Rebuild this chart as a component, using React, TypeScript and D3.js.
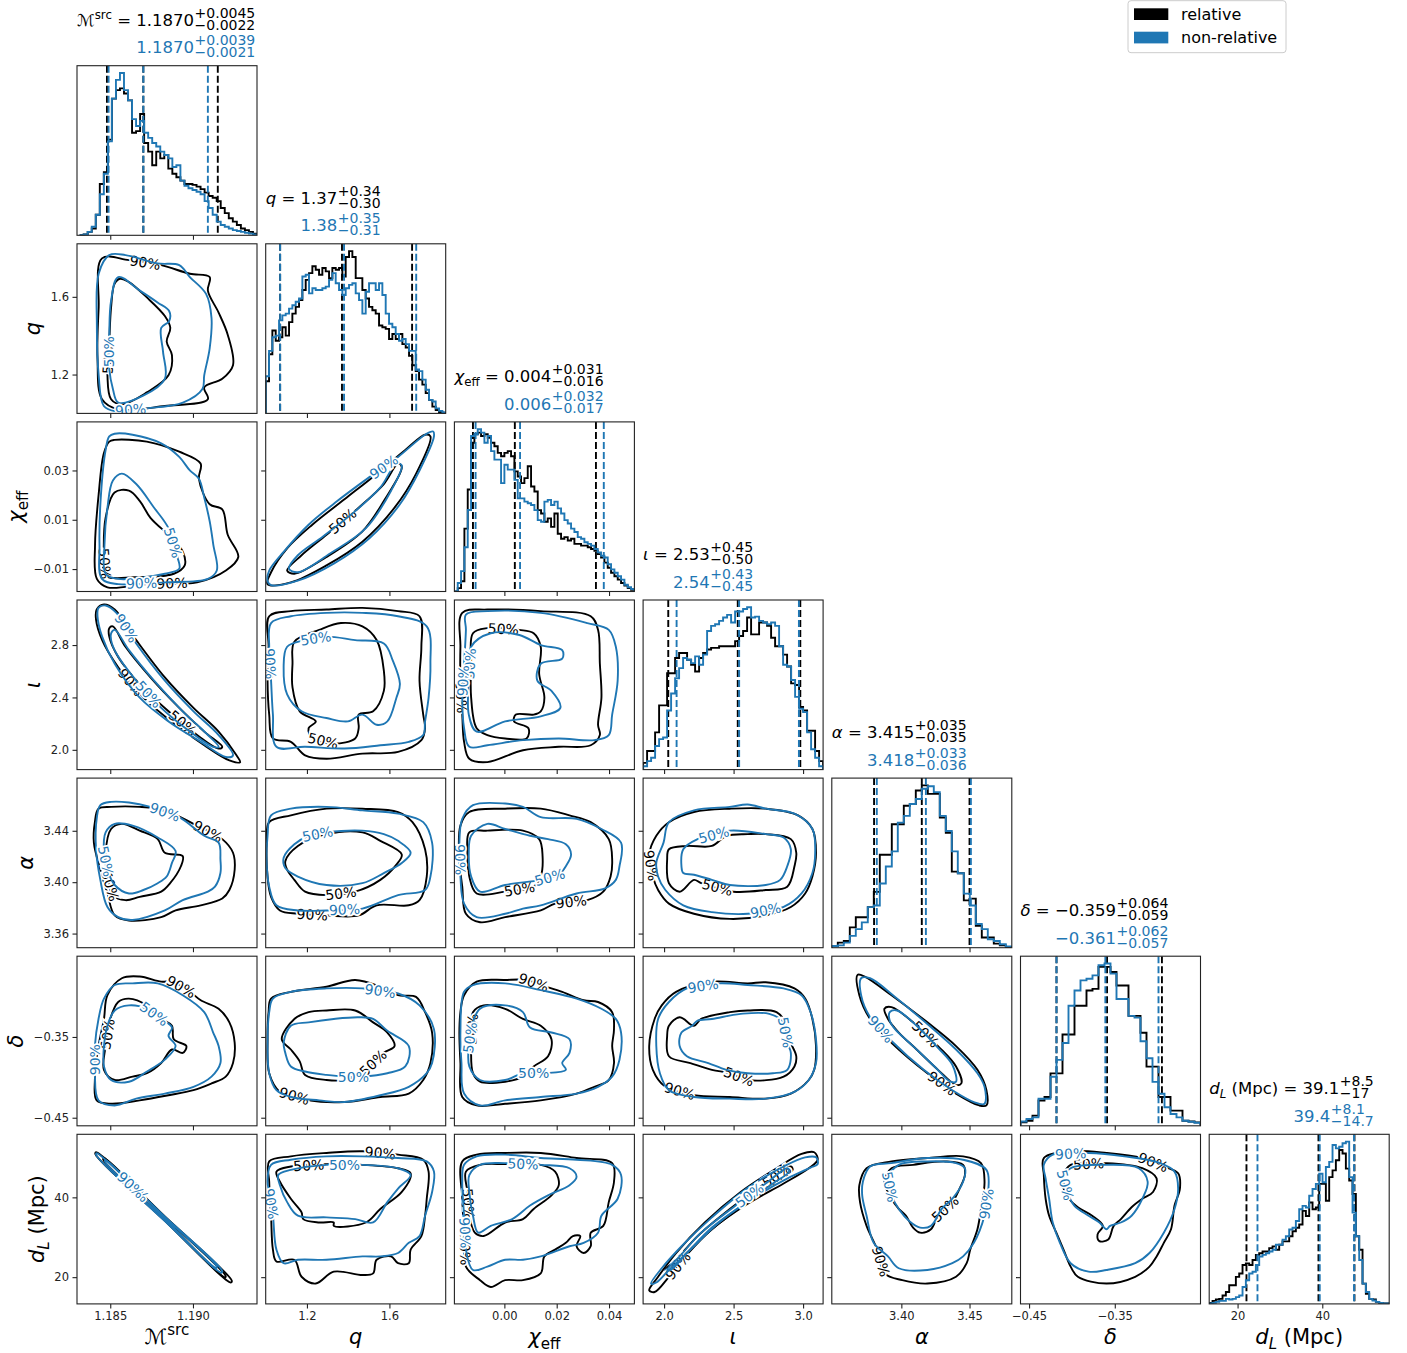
import React, { useEffect, useRef } from "react";
import * as d3 from "d3";

// ---------- parameters ----------
const paramKeys = ["mc", "q", "chiEff", "iota", "alpha", "delta", "dL"];
const labelParts = [
  [{ t: "ℳ" }, { t: "src", sup: true }],
  [{ t: "q", it: true }],
  [{ t: "χ", it: true }, { t: "eff", sub: true }],
  [{ t: "ι", it: true }],
  [{ t: "α", it: true }],
  [{ t: "δ", it: true }],
  [{ t: "d", it: true }, { t: "L", it: true, sub: true }, { t: " (Mpc)" }],
];
const domains = [
  [1.18299, 1.19387],
  [1.0, 1.873],
  [-0.0191, 0.0497],
  [1.849, 3.144],
  [3.349, 3.481],
  [-0.46, -0.25],
  [13.3, 55.8],
];
const xTicks = [[1.185, 1.19], [1.2, 1.6], [0, 0.02, 0.04], [2.0, 2.5, 3.0], [3.4, 3.45], [-0.45, -0.35], [20, 40]];
const yTicks = [[], [1.2, 1.6], [-0.01, 0.01, 0.03], [2.0, 2.4, 2.8], [3.36, 3.4, 3.44], [-0.45, -0.35], [20, 40]];
const tickFormats = [".3f", ".1f", ".2f", ".1f", ".2f", ".2f", "d"];

// ---------- summary statistics ----------
const seriesNames = ["relative", "non-relative"];
const relMedian = [1.187, 1.37, 0.004, 2.53, 3.415, -0.359, 39.1];
const relPlus = [0.0045, 0.34, 0.031, 0.45, 0.035, 0.064, 8.5];
const relMinus = [0.0022, 0.3, 0.016, 0.5, 0.035, 0.059, 17];
const nonMedian = [1.187, 1.38, 0.006, 2.54, 3.418, -0.361, 39.4];
const nonPlus = [0.0039, 0.35, 0.032, 0.43, 0.033, 0.062, 8.1];
const nonMinus = [0.0021, 0.31, 0.017, 0.45, 0.036, 0.057, 14.7];
const medianDec = [4, 2, 3, 2, 3, 3, 1];
const relMinusDec = [4, 2, 3, 2, 3, 3, 0];

// ---------- 1D histograms (relative heights) ----------
const histRanges = [
  [1.18315, 1.19387],
  [1.0, 1.873],
  [-0.0191, 0.0497],
  [1.849, 3.144],
  [3.349, 3.481],
  [-0.46, -0.25],
  [13.3, 55.8],
];
const mcRel = [0, 0.5, 2, 4, 12, 30, 37, 56, 80, 85, 86, 83, 79, 60, 61, 71, 54, 49, 41, 49, 45, 47, 39, 36, 34, 32, 30, 30, 29.5, 28.5, 27, 25, 23, 22, 20, 16, 13, 10, 8, 6, 4, 3, 2, 1];
const mcNon = [0, 0.5, 2, 5, 12, 24, 36, 55, 80, 91, 95, 85, 79, 68, 64, 67, 60, 57, 54, 52, 49, 47, 45, 40, 41, 32, 29, 27.5, 26.5, 25.5, 24, 20, 16, 12, 8, 6, 5, 4, 3, 2.5, 2, 1.5, 1, 0.5];
const qRel = [19, 35, 49, 43, 45, 51, 46, 54, 59, 63, 67, 73, 79, 83, 87, 85, 82, 86, 84, 80, 86, 85, 86, 81, 92.5, 96, 92.5, 80, 80, 73, 68, 63, 61, 59, 52, 51, 50, 44, 47, 44, 47, 41, 39, 34, 28.5, 25, 20, 17, 12, 8, 4, 2, 0.8, 0.4];
const qNon = [22, 37, 45, 46, 55, 58, 59, 62, 64, 66, 68, 81, 82, 71, 74, 73, 73, 74, 75, 79, 83, 77, 73, 70, 74, 76, 77, 71, 67, 59, 72, 77, 77, 73, 77, 70, 59, 53, 51, 47, 43, 44, 41, 37, 37, 26, 25, 20, 14, 8, 7, 3, 1.5, 0.5];
const chiRel = [0, 2, 6, 37, 60, 87.5, 92.5, 93.5, 91.5, 92.5, 90.5, 87.5, 85.5, 81.6, 79.6, 81.6, 82.6, 79.6, 70.7, 67.7, 63.8, 66.7, 73.7, 61.8, 58.8, 47.9, 45.9, 41, 43, 38, 45.9, 34, 31, 32, 30, 31, 28, 28, 27, 27, 26, 25, 24, 22, 20, 17, 14, 11, 9, 7, 5, 3.5, 2, 1];
const chiNon = [0, 5, 12, 26, 48, 91.5, 92.5, 95.5, 93.5, 87.5, 91.5, 82.6, 77.6, 77.6, 63.8, 74.6, 71.7, 71.7, 65.7, 54.8, 54.8, 52.9, 51.9, 50.9, 47.9, 42, 41, 52.9, 53.9, 50.9, 52.9, 48.9, 45.9, 42, 40, 37, 35, 32, 31, 29, 28, 27, 25, 23, 21, 20, 16, 13, 11, 9, 7, 4, 2.5, 1.5];
const iotaRel = [4, 11, 11, 22, 38, 38, 57, 57, 66, 69, 69, 65, 62, 58, 66, 69, 71, 72, 72, 73, 73, 73, 73, 76, 79, 82, 90, 80, 80, 87, 87, 85, 78, 73, 73, 68, 61, 51, 50, 37, 35, 23, 23, 11, 5];
const iotaNon = [2, 5, 7, 14, 18, 19, 35, 45, 54, 60, 66, 65, 63, 67, 62, 68, 82, 85, 86, 88, 90, 91.5, 87, 93.5, 93.5, 95, 96, 90, 90.5, 88, 87, 86, 87, 85, 73, 62, 61, 53, 43, 36, 34, 22, 12, 7, 2];
const alphaRel = [1, 3, 4, 12, 18, 18, 24, 33, 55, 55, 73, 73, 84, 85, 93, 96, 91, 91, 77, 68, 45, 44, 28, 29, 13, 6, 6, 2.4, 1.4, 0.4];
const alphaNon = [1, 1.4, 3, 7, 11, 15, 24, 25, 38, 48, 57, 74, 78, 85, 88, 94, 95.5, 92, 78, 69, 57, 44, 32, 25, 14, 11, 5, 4, 2, 0.8];
const deltaRel = [2, 3, 6, 15, 17, 31, 31, 54, 54, 71, 71, 80, 81, 94, 94, 91, 83, 83, 65, 65, 55, 35, 35, 17, 17, 9, 9, 3, 2.5, 2];
const deltaNon = [2.5, 4, 5, 16, 16, 29, 39, 49, 71, 80, 86, 87, 89, 95, 96, 90, 75, 75, 65, 64, 50, 40, 26, 19, 11, 7, 5, 3, 2.4, 1.8];
const dlRel = [0.6, 1.8, 2.6, 3, 5, 7, 11, 11, 16, 18, 23, 24, 23, 26, 29, 30, 31, 31, 33, 34, 32, 35, 37, 37, 40, 43, 45, 47, 55, 52, 60, 56, 57, 71, 71, 61, 75, 79, 85, 91, 89, 80, 73, 65, 40, 32, 12, 6, 3, 2.6, 1.2, 0.6, 0.2, 0.2];
const dlNon = [0.2, 0.6, 1.2, 1.8, 1.8, 3, 2.6, 3, 4, 5, 10, 14, 18, 19, 23, 28, 29, 30, 31, 32, 35, 35, 38, 40, 44, 45, 49, 56, 58, 57, 64, 68, 71, 77, 72, 81, 84, 94, 92, 93, 95, 96, 75, 54, 40, 26, 12, 7, 3, 2, 1.2, 0.6, 0.2, 0.2];
const relHists = [mcRel, qRel, chiRel, iotaRel, alphaRel, deltaRel, dlRel];
const nonHists = [mcNon, qNon, chiNon, iotaNon, alphaNon, deltaNon, dlNon];

// ---------- 2D credible contours (x = column parameter, y = row parameter) ----------
const cQMc = {
  rel90: [[1.1845, 1.798], [1.18613, 1.789], [1.18808, 1.763], [1.18981, 1.719], [1.19101, 1.702], [1.1909, 1.632], [1.19155, 1.519], [1.1921, 1.405], [1.19242, 1.248], [1.19177, 1.178], [1.19068, 1.134], [1.1909, 1.073], [1.1883, 1.038], [1.18548, 1.021], [1.1845, 1.073], [1.18423, 1.283], [1.1843, 1.545]],
  non90: [[1.18494, 1.815], [1.18592, 1.815], [1.18786, 1.772], [1.18917, 1.763], [1.18981, 1.702], [1.19079, 1.615], [1.19112, 1.492], [1.19101, 1.335], [1.19068, 1.196], [1.19057, 1.126], [1.18939, 1.056], [1.18721, 1.026], [1.18526, 1.012], [1.18461, 1.038], [1.1843, 1.196], [1.18419, 1.457], [1.1843, 1.719]],
  rel50: [[1.18559, 1.693], [1.18613, 1.676], [1.18721, 1.597], [1.1883, 1.501], [1.18863, 1.44], [1.18841, 1.37], [1.18873, 1.3], [1.18852, 1.196], [1.18721, 1.108], [1.1857, 1.047], [1.18505, 1.073], [1.18483, 1.196], [1.18494, 1.37], [1.18505, 1.545], [1.18526, 1.667]],
  non50: [[1.18548, 1.702], [1.18679, 1.632], [1.18786, 1.571], [1.18856, 1.527], [1.18856, 1.475], [1.18808, 1.44], [1.18819, 1.318], [1.1883, 1.178], [1.18699, 1.091], [1.18548, 1.056], [1.18516, 1.126], [1.18494, 1.23], [1.18494, 1.405], [1.18505, 1.58]],
  labels: [["rel90", 1], ["rel50", 11], ["non50", 11], ["non90", 11]],
};
const cChiMc = {
  rel90: [[1.18526, 0.0424], [1.18721, 0.0417], [1.18917, 0.0376], [1.19046, 0.0328], [1.19036, 0.0266], [1.19101, 0.0163], [1.19177, 0.0142], [1.1921, 0.0039], [1.19274, -0.0051], [1.19199, -0.0106], [1.19025, -0.0154], [1.18721, -0.0161], [1.18483, -0.0174], [1.18419, -0.014], [1.18408, -0.0002], [1.1843, 0.0204], [1.18461, 0.0369], [1.18494, 0.0417]],
  non90: [[1.18526, 0.0449], [1.18635, 0.0445], [1.18808, 0.041], [1.18917, 0.0355], [1.18981, 0.03], [1.19036, 0.0266], [1.19068, 0.019], [1.19101, 0.0094], [1.19123, -0.0002], [1.19144, -0.0106], [1.1909, -0.014], [1.1883, -0.0154], [1.18548, -0.0161], [1.1845, -0.014], [1.18435, -0.0002], [1.18444, 0.0204], [1.18472, 0.0383], [1.18494, 0.0438]],
  rel50: [[1.18526, 0.0211], [1.18613, 0.0218], [1.18679, 0.0176], [1.18743, 0.0108], [1.18873, 0.0025], [1.18939, -0.003], [1.1895, -0.0085], [1.18884, -0.0119], [1.18646, -0.0133], [1.18472, -0.0126], [1.18461, -0.003], [1.18472, 0.0108]],
  non50: [[1.18516, 0.0259], [1.1857, 0.0287], [1.18657, 0.0245], [1.18765, 0.0149], [1.18852, 0.0066], [1.18906, -0.0051], [1.18917, -0.0099], [1.1883, -0.0119], [1.18548, -0.014], [1.18472, -0.0119], [1.18465, -0.0002], [1.18483, 0.0149]],
  labels: [["rel50", 9], ["non50", 4], ["non90", 11], ["rel90", 10]],
};
const cChiQ = {
  rel90: [[1.0087, -0.0161], [1.122, -0.0154], [1.295, -0.0085], [1.469, 0.0011], [1.625, 0.0149], [1.729, 0.0286], [1.799, 0.0438], [1.773, 0.0445], [1.677, 0.0383], [1.538, 0.0286], [1.382, 0.0183], [1.226, 0.008], [1.104, -0.0016], [1.026, -0.0113]],
  non90: [[1.0087, -0.0147], [1.026, -0.0165], [1.156, -0.0147], [1.33, -0.0078], [1.503, 0.0025], [1.651, 0.0163], [1.746, 0.03], [1.816, 0.0438], [1.812, 0.0458], [1.773, 0.0445], [1.642, 0.0355], [1.503, 0.0273], [1.347, 0.0176], [1.208, 0.008], [1.087, -0.003], [1.017, -0.0106]],
  rel50: [[1.104, -0.0106], [1.139, -0.0119], [1.295, -0.0051], [1.469, 0.0053], [1.573, 0.0176], [1.66, 0.0314], [1.642, 0.0328], [1.573, 0.0245], [1.451, 0.0149], [1.295, 0.0039], [1.174, -0.0044]],
  non50: [[1.113, -0.0099], [1.156, -0.0113], [1.312, -0.0037], [1.486, 0.0066], [1.608, 0.0218], [1.66, 0.0321], [1.634, 0.0328], [1.556, 0.0231], [1.434, 0.0135], [1.278, 0.0032], [1.156, -0.0044]],
  labels: [["non90", 10], ["rel50", 8]],
};
const cIotaMc = {
  rel90: [[1.18418, 3.071], [1.18462, 3.11], [1.18527, 3.071], [1.18657, 2.838], [1.1883, 2.553], [1.19003, 2.32], [1.19155, 2.139], [1.19263, 1.958], [1.19285, 1.906], [1.1922, 1.919], [1.19068, 2.035], [1.18895, 2.191], [1.187, 2.398], [1.18548, 2.631], [1.18451, 2.838], [1.18414, 2.994]],
  non90: [[1.18429, 3.084], [1.18472, 3.102], [1.18537, 3.046], [1.18657, 2.812], [1.1883, 2.528], [1.19003, 2.294], [1.19155, 2.113], [1.19242, 1.958], [1.19198, 1.945], [1.19047, 2.061], [1.18852, 2.217], [1.18678, 2.398], [1.18527, 2.657], [1.18451, 2.864], [1.18423, 3.02]],
  rel50: [[1.18494, 2.929], [1.18516, 2.942], [1.18592, 2.787], [1.18743, 2.553], [1.18917, 2.32], [1.19068, 2.139], [1.19177, 2.023], [1.19155, 2.01], [1.19025, 2.113], [1.18852, 2.294], [1.18678, 2.502], [1.18548, 2.709], [1.18494, 2.864]],
  non50: [[1.18505, 2.89], [1.18527, 2.916], [1.18613, 2.761], [1.18765, 2.528], [1.18938, 2.294], [1.1909, 2.113], [1.19155, 2.023], [1.19122, 2.023], [1.18982, 2.139], [1.18808, 2.32], [1.18657, 2.528], [1.18537, 2.735], [1.18505, 2.838]],
  labels: [["non90", 2], ["rel90", 12], ["non50", 9], ["rel50", 8]],
};
const cIotaQ = {
  rel90: [[1.017, 3.02], [1.122, 3.059], [1.295, 3.071], [1.469, 3.084], [1.642, 3.059], [1.746, 3.02], [1.755, 2.787], [1.746, 2.528], [1.764, 2.269], [1.773, 2.165], [1.755, 2.074], [1.642, 1.984], [1.469, 1.971], [1.295, 1.932], [1.191, 1.958], [1.122, 2.061], [1.035, 2.087], [1.017, 2.269], [1.009, 2.528], [1.014, 2.787]],
  non90: [[1.026, 2.968], [1.122, 3.02], [1.295, 3.046], [1.469, 3.046], [1.642, 3.02], [1.781, 2.942], [1.799, 2.657], [1.79, 2.398], [1.773, 2.217], [1.764, 2.113], [1.694, 2.061], [1.556, 2.035], [1.382, 2.01], [1.191, 2.023], [1.052, 2.023], [1.035, 2.269], [1.026, 2.528], [1.017, 2.787]],
  rel50: [[1.139, 2.825], [1.26, 2.916], [1.365, 2.968], [1.469, 2.942], [1.538, 2.838], [1.573, 2.605], [1.573, 2.45], [1.521, 2.294], [1.451, 2.269], [1.451, 2.165], [1.434, 2.087], [1.33, 2.048], [1.226, 2.087], [1.208, 2.165], [1.243, 2.217], [1.165, 2.294], [1.13, 2.476], [1.13, 2.657]],
  non50: [[1.104, 2.787], [1.191, 2.838], [1.295, 2.864], [1.434, 2.838], [1.573, 2.812], [1.616, 2.683], [1.651, 2.502], [1.634, 2.398], [1.59, 2.217], [1.538, 2.191], [1.469, 2.269], [1.399, 2.217], [1.295, 2.243], [1.174, 2.294], [1.104, 2.424], [1.087, 2.631]],
  labels: [["rel90", 18], ["non90", 16], ["non50", 1], ["rel50", 11]],
};
const cIotaChi = {
  rel90: [[-0.0161, 3.046], [-0.0065, 3.071], [0.0139, 3.059], [0.033, 3.02], [0.0358, 2.916], [0.0365, 2.657], [0.0371, 2.398], [0.0358, 2.191], [0.0365, 2.113], [0.033, 2.035], [0.0208, 2.023], [0.0071, 1.997], [-0.0065, 1.906], [-0.0134, 1.932], [-0.0154, 2.061], [-0.0161, 2.269], [-0.0168, 2.528], [-0.0168, 2.787]],
  non90: [[-0.0147, 3.033], [-0.0065, 3.059], [0.0139, 3.046], [0.0317, 2.968], [0.0399, 2.916], [0.0426, 2.787], [0.0433, 2.528], [0.0412, 2.269], [0.0399, 2.113], [0.0344, 2.074], [0.0208, 2.087], [0.0071, 2.074], [-0.0065, 2.035], [-0.0134, 2.023], [-0.0154, 2.165], [-0.0161, 2.398], [-0.0154, 2.657], [-0.0147, 2.916]],
  rel50: [[-0.012, 2.89], [-0.0065, 2.929], [0.0057, 2.916], [0.0112, 2.89], [0.0139, 2.787], [0.0133, 2.579], [0.0153, 2.398], [0.0139, 2.294], [0.0112, 2.269], [0.0044, 2.269], [0.0037, 2.217], [0.0092, 2.165], [0.0085, 2.087], [0.0003, 2.087], [-0.0065, 2.113], [-0.0106, 2.165], [-0.0127, 2.398], [-0.0127, 2.657]],
  non50: [[-0.0127, 2.787], [-0.0052, 2.89], [0.0057, 2.877], [0.0139, 2.8], [0.0221, 2.761], [0.0221, 2.696], [0.0139, 2.657], [0.0126, 2.528], [0.018, 2.45], [0.0214, 2.32], [0.0139, 2.256], [0.0003, 2.217], [-0.0106, 2.139], [-0.0136, 2.269], [-0.0136, 2.528]],
  labels: [["rel50", 1], ["non50", 14], ["rel90", 15], ["non90", 15]],
};
const cAlphaMc = {
  rel90: [[1.18429, 3.4572], [1.18505, 3.4586], [1.18678, 3.4586], [1.1883, 3.4559], [1.19003, 3.4454], [1.19177, 3.4335], [1.19242, 3.4229], [1.19252, 3.4097], [1.1922, 3.3939], [1.19177, 3.3873], [1.19047, 3.382], [1.18895, 3.378], [1.18808, 3.3728], [1.18613, 3.3701], [1.18527, 3.3741], [1.18483, 3.3912], [1.1844, 3.4097], [1.18401, 3.4308], [1.18407, 3.4467]],
  non90: [[1.1844, 3.4599], [1.18505, 3.4625], [1.18613, 3.462], [1.18743, 3.4586], [1.18917, 3.4506], [1.19068, 3.4361], [1.19155, 3.4308], [1.19166, 3.4176], [1.19166, 3.4071], [1.19133, 3.3965], [1.1909, 3.3926], [1.18938, 3.386], [1.1883, 3.378], [1.18635, 3.3706], [1.18548, 3.3728], [1.18483, 3.3807], [1.1844, 3.4018], [1.18414, 3.4256], [1.18418, 3.4493]],
  rel50: [[1.18505, 3.4414], [1.1857, 3.4454], [1.18678, 3.4401], [1.18787, 3.4335], [1.1883, 3.4229], [1.18938, 3.4203], [1.18927, 3.4124], [1.18862, 3.3992], [1.18808, 3.3926], [1.18678, 3.3886], [1.18592, 3.386], [1.18516, 3.3899], [1.18483, 3.4044], [1.18472, 3.4229]],
  non50: [[1.18472, 3.4388], [1.18527, 3.4454], [1.18635, 3.444], [1.18787, 3.4348], [1.18895, 3.4242], [1.18873, 3.415], [1.18841, 3.4044], [1.18787, 3.3992], [1.187, 3.3939], [1.18613, 3.3912], [1.18527, 3.3978], [1.18483, 3.4097], [1.18462, 3.4229]],
  labels: [["non90", 3], ["rel90", 4], ["non50", 11], ["rel50", 11]],
};
const cAlphaQ = {
  rel90: [[1.017, 3.4467], [1.122, 3.452], [1.295, 3.4572], [1.469, 3.4572], [1.642, 3.4546], [1.712, 3.4467], [1.773, 3.4256], [1.781, 3.4044], [1.746, 3.386], [1.694, 3.382], [1.538, 3.382], [1.451, 3.3741], [1.295, 3.3741], [1.156, 3.3754], [1.069, 3.378], [1.026, 3.3886], [1.009, 3.4044], [1.005, 3.4308]],
  non90: [[1.026, 3.452], [1.122, 3.4572], [1.295, 3.4586], [1.469, 3.4559], [1.642, 3.4533], [1.764, 3.4467], [1.807, 3.4308], [1.799, 3.4044], [1.773, 3.3939], [1.642, 3.3899], [1.469, 3.3794], [1.295, 3.378], [1.156, 3.378], [1.052, 3.382], [1.017, 3.3965], [1.004, 3.4176], [1.009, 3.4361]],
  rel50: [[1.095, 3.4163], [1.156, 3.4282], [1.295, 3.4374], [1.469, 3.4388], [1.556, 3.4322], [1.66, 3.4216], [1.634, 3.4137], [1.556, 3.4018], [1.434, 3.3926], [1.295, 3.3899], [1.191, 3.3926], [1.139, 3.4018], [1.104, 3.4097]],
  non50: [[1.087, 3.419], [1.139, 3.4295], [1.208, 3.4361], [1.295, 3.4388], [1.469, 3.4401], [1.573, 3.4374], [1.642, 3.4322], [1.703, 3.4229], [1.66, 3.415], [1.573, 3.4071], [1.469, 3.3992], [1.295, 3.3978], [1.156, 3.4044], [1.095, 3.411]],
  labels: [["non50", 2], ["rel50", 8], ["rel90", 12], ["non90", 10]],
};
const cAlphaChi = {
  rel90: [[-0.0168, 3.444], [-0.0134, 3.4546], [0.0003, 3.4572], [0.0139, 3.4572], [0.0249, 3.452], [0.033, 3.4467], [0.0399, 3.4335], [0.0412, 3.4176], [0.0406, 3.4044], [0.0378, 3.3926], [0.0317, 3.386], [0.0194, 3.3833], [0.0139, 3.378], [0.0003, 3.3728], [-0.0093, 3.3688], [-0.0147, 3.3754], [-0.0161, 3.3965], [-0.0172, 3.4176]],
  non90: [[-0.0161, 3.4493], [-0.012, 3.4599], [0.0003, 3.4612], [0.0071, 3.4586], [0.0139, 3.4506], [0.0276, 3.4493], [0.0371, 3.4414], [0.0446, 3.4308], [0.044, 3.4124], [0.0426, 3.4018], [0.0385, 3.3952], [0.0276, 3.3912], [0.0139, 3.382], [0.0071, 3.3794], [0.0003, 3.3754], [-0.0106, 3.3728], [-0.0154, 3.3833], [-0.0168, 3.4044], [-0.0172, 3.4308]],
  rel50: [[-0.0134, 3.4388], [-0.0065, 3.4401], [0.0071, 3.4401], [0.0133, 3.4335], [0.0146, 3.4203], [0.0139, 3.4044], [0.0112, 3.3965], [0.0003, 3.3926], [-0.0106, 3.3912], [-0.0134, 3.4044], [-0.0141, 3.4229]],
  non50: [[-0.0127, 3.4361], [-0.0065, 3.4454], [0.0003, 3.4414], [0.0098, 3.4361], [0.0167, 3.4335], [0.0235, 3.4295], [0.0255, 3.4216], [0.0235, 3.4124], [0.0208, 3.4058], [0.0139, 3.4018], [0.0003, 3.3978], [-0.0093, 3.3926], [-0.0127, 3.4044], [-0.0136, 3.4229]],
  labels: [["non90", 17], ["non50", 8], ["rel50", 6], ["rel90", 10]],
};
const cAlphaIota = {
  rel90: [[1.893, 3.4216], [1.944, 3.4361], [2.035, 3.4467], [2.215, 3.4546], [2.473, 3.4572], [2.731, 3.4572], [2.964, 3.452], [3.067, 3.4414], [3.093, 3.4229], [3.067, 3.4044], [3.015, 3.3912], [2.912, 3.3807], [2.731, 3.3741], [2.473, 3.3714], [2.215, 3.3754], [2.035, 3.3833], [1.957, 3.3939], [1.919, 3.4044]],
  non90: [[1.944, 3.415], [1.996, 3.4308], [2.035, 3.4467], [2.215, 3.4559], [2.473, 3.4586], [2.602, 3.4604], [2.731, 3.4572], [2.938, 3.4533], [3.067, 3.4414], [3.087, 3.4229], [3.067, 3.4071], [2.989, 3.3912], [2.86, 3.3807], [2.602, 3.3754], [2.344, 3.3767], [2.138, 3.382], [2.009, 3.3939], [1.957, 3.4044]],
  rel50: [[2.022, 3.4176], [2.035, 3.4256], [2.164, 3.4282], [2.344, 3.4282], [2.448, 3.4361], [2.602, 3.4374], [2.731, 3.4374], [2.912, 3.4335], [2.951, 3.4229], [2.938, 3.4124], [2.886, 3.3965], [2.731, 3.3939], [2.499, 3.3926], [2.267, 3.3992], [2.215, 3.4018], [2.112, 3.3926], [2.035, 3.3992]],
  non50: [[2.125, 3.4124], [2.138, 3.4256], [2.241, 3.4335], [2.473, 3.4401], [2.731, 3.4374], [2.86, 3.4348], [2.912, 3.4256], [2.886, 3.4124], [2.835, 3.4018], [2.731, 3.3978], [2.473, 3.3978], [2.344, 3.4018], [2.215, 3.4058], [2.138, 3.4071]],
  labels: [["non50", 2], ["rel50", 12], ["rel90", 17], ["non90", 12]],
};
const cDeltaMc = {
  rel90: [[1.18483, -0.2983], [1.1857, -0.2773], [1.18678, -0.2752], [1.18808, -0.2815], [1.18873, -0.2815], [1.18982, -0.2941], [1.19047, -0.3046], [1.19155, -0.3151], [1.1922, -0.3319], [1.19252, -0.3571], [1.19242, -0.3823], [1.19198, -0.3991], [1.19112, -0.4075], [1.19003, -0.4159], [1.18852, -0.4222], [1.18678, -0.4285], [1.18505, -0.4327], [1.18418, -0.4285], [1.18407, -0.4033], [1.18429, -0.3613], [1.18462, -0.3277]],
  non90: [[1.18462, -0.3025], [1.18527, -0.2857], [1.18635, -0.2836], [1.18787, -0.2836], [1.18938, -0.2983], [1.19068, -0.3193], [1.19122, -0.3445], [1.19155, -0.3613], [1.19166, -0.3823], [1.19112, -0.3991], [1.19003, -0.4117], [1.1883, -0.4201], [1.18657, -0.4264], [1.18527, -0.4348], [1.18429, -0.4285], [1.18407, -0.3949], [1.18407, -0.3613], [1.18429, -0.3277]],
  rel50: [[1.18494, -0.3319], [1.18548, -0.3067], [1.18613, -0.3025], [1.18722, -0.3109], [1.18808, -0.3277], [1.18873, -0.3361], [1.18884, -0.3529], [1.1896, -0.3613], [1.18938, -0.3697], [1.18873, -0.3655], [1.18808, -0.3823], [1.18722, -0.3949], [1.18635, -0.3991], [1.18527, -0.4033], [1.18462, -0.3907], [1.18472, -0.3613]],
  non50: [[1.18483, -0.3361], [1.18527, -0.3172], [1.18613, -0.3109], [1.18722, -0.3151], [1.18808, -0.3277], [1.18873, -0.3382], [1.18852, -0.3487], [1.18895, -0.3613], [1.1883, -0.3781], [1.18722, -0.3928], [1.18613, -0.4054], [1.18505, -0.4033], [1.18462, -0.3865], [1.18462, -0.3613]],
  labels: [["rel90", 4], ["non50", 3], ["rel50", 15], ["non90", 15]],
};
const cDeltaQ = {
  rel90: [[1.026, -0.3025], [1.122, -0.2941], [1.295, -0.2878], [1.434, -0.2794], [1.556, -0.2878], [1.642, -0.2983], [1.729, -0.3004], [1.773, -0.3193], [1.807, -0.3445], [1.799, -0.3823], [1.764, -0.4033], [1.694, -0.4201], [1.556, -0.4243], [1.382, -0.4306], [1.208, -0.4285], [1.069, -0.418], [1.017, -0.3949], [1.009, -0.3529], [1.014, -0.3193]],
  non90: [[1.035, -0.3025], [1.122, -0.2941], [1.295, -0.2899], [1.469, -0.2899], [1.642, -0.2962], [1.746, -0.3109], [1.816, -0.3403], [1.807, -0.3823], [1.781, -0.3949], [1.694, -0.4117], [1.556, -0.4222], [1.382, -0.4306], [1.26, -0.4285], [1.122, -0.4243], [1.052, -0.4159], [1.017, -0.3949], [1.009, -0.3613], [1.017, -0.3193]],
  rel50: [[1.078, -0.3529], [1.139, -0.3277], [1.208, -0.3193], [1.295, -0.3172], [1.434, -0.3172], [1.521, -0.3319], [1.59, -0.3445], [1.625, -0.3613], [1.573, -0.3697], [1.469, -0.3949], [1.382, -0.4033], [1.295, -0.4033], [1.191, -0.397], [1.165, -0.3802], [1.122, -0.3655]],
  non50: [[1.087, -0.3571], [1.122, -0.3361], [1.208, -0.3319], [1.33, -0.3277], [1.451, -0.3256], [1.521, -0.3277], [1.59, -0.3424], [1.694, -0.3613], [1.677, -0.3865], [1.59, -0.3949], [1.469, -0.3991], [1.382, -0.3991], [1.295, -0.397], [1.191, -0.3928], [1.122, -0.3865], [1.095, -0.3697]],
  labels: [["non90", 3], ["rel50", 8], ["non50", 10], ["rel90", 14]],
};
const cDeltaChi = {
  rel90: [[-0.0154, -0.2983], [-0.0106, -0.2815], [0.0003, -0.2794], [0.0085, -0.2794], [0.0139, -0.2857], [0.0221, -0.2941], [0.0303, -0.3046], [0.0358, -0.3067], [0.0412, -0.3193], [0.0419, -0.3403], [0.0412, -0.3613], [0.0419, -0.3823], [0.0399, -0.4033], [0.0344, -0.4117], [0.0276, -0.4201], [0.0139, -0.4285], [0.0003, -0.4327], [-0.0106, -0.4348], [-0.0161, -0.4243], [-0.0168, -0.3823], [-0.0172, -0.3445], [-0.0168, -0.3193]],
  non90: [[-0.0154, -0.2941], [-0.012, -0.2857], [0.0003, -0.2836], [0.0139, -0.292], [0.0276, -0.3025], [0.0371, -0.3151], [0.0426, -0.3277], [0.0446, -0.3445], [0.044, -0.3781], [0.0412, -0.3991], [0.0358, -0.4117], [0.0276, -0.4201], [0.0139, -0.4243], [0.0003, -0.4285], [-0.0093, -0.4348], [-0.0154, -0.4201], [-0.0164, -0.3823], [-0.0168, -0.3445]],
  rel50: [[-0.012, -0.3193], [-0.0079, -0.3109], [0.0003, -0.3151], [0.0071, -0.3277], [0.0139, -0.3361], [0.018, -0.3529], [0.0167, -0.3739], [0.0112, -0.3865], [0.0071, -0.3991], [0.0003, -0.4054], [-0.0093, -0.4054], [-0.012, -0.3949], [-0.0127, -0.3613]],
  non50: [[-0.0127, -0.3403], [-0.0093, -0.3151], [0.0003, -0.3109], [0.0071, -0.3193], [0.0098, -0.3382], [0.018, -0.3445], [0.0249, -0.3529], [0.0249, -0.3697], [0.0221, -0.3823], [0.0235, -0.3907], [0.0153, -0.3949], [0.0071, -0.3949], [0.0003, -0.4033], [-0.0093, -0.4033], [-0.0134, -0.3865], [-0.0136, -0.3613]],
  labels: [["rel90", 3], ["rel50", 12], ["non50", 15], ["non50", 10]],
};
const cDeltaIota = {
  rel90: [[1.932, -0.3277], [1.983, -0.3109], [2.086, -0.2941], [2.344, -0.2815], [2.602, -0.2836], [2.731, -0.2823], [2.938, -0.2899], [3.015, -0.3025], [3.067, -0.3277], [3.093, -0.3613], [3.08, -0.3907], [3.041, -0.4033], [2.912, -0.4201], [2.731, -0.4264], [2.473, -0.4243], [2.215, -0.4222], [2.009, -0.4117], [1.919, -0.3907], [1.893, -0.3613]],
  non90: [[1.957, -0.3277], [2.035, -0.3067], [2.164, -0.2899], [2.396, -0.2836], [2.602, -0.2857], [2.86, -0.2899], [2.989, -0.2983], [3.054, -0.3193], [3.093, -0.3529], [3.093, -0.3823], [3.041, -0.4033], [2.938, -0.418], [2.731, -0.4264], [2.473, -0.4264], [2.215, -0.4243], [2.035, -0.4159], [1.97, -0.3949], [1.944, -0.3613]],
  rel50: [[2.022, -0.3487], [2.035, -0.3361], [2.112, -0.3256], [2.215, -0.3361], [2.267, -0.3277], [2.473, -0.3193], [2.602, -0.3172], [2.809, -0.3193], [2.886, -0.3361], [2.912, -0.3571], [2.951, -0.3739], [2.938, -0.3865], [2.86, -0.3991], [2.602, -0.4033], [2.473, -0.3949], [2.344, -0.3907], [2.189, -0.3823], [2.035, -0.3739]],
  non50: [[2.112, -0.3613], [2.125, -0.3445], [2.202, -0.3361], [2.241, -0.3298], [2.344, -0.3277], [2.551, -0.3214], [2.757, -0.3214], [2.86, -0.3319], [2.886, -0.3571], [2.912, -0.3697], [2.886, -0.3907], [2.783, -0.3949], [2.602, -0.3949], [2.448, -0.3907], [2.318, -0.3823], [2.164, -0.3739]],
  labels: [["non90", 2], ["non50", 7], ["rel50", 13], ["rel90", 15]],
};
const cDeltaAlpha = {
  rel90: [[3.3679, -0.2731], [3.3731, -0.2752], [3.3928, -0.2983], [3.4191, -0.3319], [3.4401, -0.3613], [3.4558, -0.3907], [3.4624, -0.4159], [3.4624, -0.4348], [3.4571, -0.4348], [3.4401, -0.4201], [3.4191, -0.3949], [3.3928, -0.3571], [3.3771, -0.3277], [3.3692, -0.2983]],
  non90: [[3.3705, -0.2773], [3.3771, -0.2773], [3.3954, -0.3004], [3.4191, -0.334], [3.4401, -0.3655], [3.4558, -0.3949], [3.461, -0.4117], [3.461, -0.4327], [3.4532, -0.4306], [3.4374, -0.4159], [3.4164, -0.3907], [3.3928, -0.355], [3.3771, -0.3256], [3.3705, -0.2983]],
  rel50: [[3.3876, -0.3151], [3.3928, -0.313], [3.4086, -0.3319], [3.4269, -0.3613], [3.4401, -0.3865], [3.444, -0.4075], [3.4401, -0.4096], [3.4269, -0.3907], [3.4112, -0.3655], [3.3981, -0.3445], [3.3902, -0.3277]],
  non50: [[3.3915, -0.3193], [3.3968, -0.3172], [3.4112, -0.3361], [3.4269, -0.3634], [3.4374, -0.3844], [3.4401, -0.4054], [3.4361, -0.4054], [3.4243, -0.3865], [3.4086, -0.3613], [3.3954, -0.3403], [3.3915, -0.3298]],
  labels: [["rel50", 2], ["non90", 11], ["rel90", 9]],
};
const cDlMc = {
  rel90: [[1.18414, 51.3], [1.1883, 35.23], [1.19235, 19.08], [1.19229, 18.66], [1.18819, 34.55], [1.1841, 50.87]],
  non90: [[1.18418, 51.04], [1.1883, 35.15], [1.19177, 21.55], [1.19172, 21.12], [1.18819, 34.47], [1.18414, 50.7]],
  rel50: [[1.18462, 49.85], [1.1883, 35.06], [1.19198, 20.27], [1.19194, 19.93], [1.18826, 34.72], [1.18457, 49.51]],
  non50: [[1.18472, 49.34], [1.1883, 34.98], [1.19144, 22.65], [1.1914, 22.31], [1.18826, 34.64], [1.18468, 49.0]],
  labels: [["rel50", 0], ["rel90", 0], ["non50", 0], ["non90", 0]],
};
const cDlQ = {
  rel90: [[1.017, 49.0], [1.122, 50.28], [1.295, 51.13], [1.469, 51.55], [1.642, 50.7], [1.764, 49.43], [1.79, 46.45], [1.781, 39.65], [1.773, 35.4], [1.755, 30.3], [1.703, 26.9], [1.694, 23.5], [1.642, 23.5], [1.608, 25.2], [1.538, 24.35], [1.521, 20.95], [1.469, 20.53], [1.33, 21.38], [1.243, 18.4], [1.174, 20.1], [1.139, 24.35], [1.052, 23.93], [1.035, 26.9], [1.026, 35.4], [1.017, 43.9]],
  non90: [[1.026, 48.15], [1.122, 49.43], [1.295, 50.28], [1.469, 50.28], [1.642, 49.85], [1.781, 49.0], [1.816, 46.45], [1.807, 41.35], [1.773, 35.4], [1.746, 30.3], [1.694, 28.6], [1.642, 26.05], [1.556, 25.2], [1.469, 25.2], [1.295, 24.35], [1.156, 24.35], [1.087, 23.5], [1.052, 26.9], [1.035, 35.4], [1.017, 41.35], [1.009, 43.9]],
  rel50: [[1.052, 46.45], [1.122, 47.73], [1.295, 48.32], [1.469, 48.15], [1.642, 47.3], [1.703, 46.03], [1.66, 41.35], [1.556, 37.1], [1.486, 33.7], [1.33, 32.85], [1.33, 33.7], [1.26, 33.7], [1.182, 34.55], [1.174, 36.25], [1.122, 39.65], [1.069, 43.9]],
  non50: [[1.061, 45.6], [1.122, 46.88], [1.295, 48.15], [1.469, 48.15], [1.642, 47.3], [1.703, 45.6], [1.642, 42.2], [1.59, 38.8], [1.521, 33.7], [1.434, 34.55], [1.295, 34.98], [1.156, 35.4], [1.104, 38.8], [1.069, 43.05]],
  labels: [["rel50", 1], ["non50", 2], ["rel90", 3], ["non90", 18]],
};
const cDlChi = {
  rel90: [[-0.0161, 49.0], [-0.0106, 50.7], [0.0003, 51.13], [0.0139, 51.13], [0.0276, 49.85], [0.0412, 48.58], [0.0419, 43.9], [0.0399, 38.8], [0.0378, 32.85], [0.033, 31.15], [0.033, 27.75], [0.0303, 26.05], [0.0276, 27.75], [0.029, 30.3], [0.0262, 30.3], [0.0235, 28.6], [0.0194, 26.9], [0.0153, 25.2], [0.0139, 20.95], [0.0071, 19.25], [0.0003, 19.25], [-0.0052, 17.55], [-0.0093, 19.25], [-0.0147, 22.65], [-0.0154, 31.15], [-0.0161, 39.65]],
  non90: [[-0.0154, 48.15], [-0.0106, 50.28], [0.0003, 50.7], [0.0139, 49.85], [0.0276, 49.43], [0.0412, 48.15], [0.0446, 45.6], [0.0433, 39.65], [0.0371, 35.4], [0.0358, 31.15], [0.0303, 28.6], [0.0249, 27.75], [0.0139, 25.2], [0.0071, 24.35], [0.0003, 24.35], [-0.0065, 22.65], [-0.012, 21.8], [-0.0147, 26.9], [-0.0154, 35.4], [-0.0161, 43.9]],
  rel50: [[-0.0147, 46.45], [-0.0093, 48.15], [0.0003, 48.32], [0.0139, 48.15], [0.0194, 46.45], [0.0208, 43.05], [0.018, 40.5], [0.0112, 37.1], [0.0071, 34.55], [0.0003, 33.7], [-0.0079, 30.3], [-0.0113, 31.15], [-0.0134, 35.4], [-0.0141, 41.35]],
  non50: [[-0.0134, 45.6], [-0.0093, 48.15], [0.0003, 48.58], [0.0139, 48.15], [0.0249, 47.3], [0.0276, 45.18], [0.0249, 43.05], [0.0167, 40.5], [0.0098, 37.95], [0.003, 34.55], [-0.0052, 32.85], [-0.01, 31.15], [-0.012, 35.4], [-0.0134, 41.35]],
  labels: [["non50", 2], ["rel50", 12], ["non90", 17], ["rel90", 23]],
};
const cDlIota = {
  rel90: [[1.893, 16.7], [1.957, 20.1], [2.086, 26.05], [2.293, 33.7], [2.551, 41.35], [2.809, 47.3], [2.989, 50.87], [3.08, 51.3], [3.105, 49.43], [3.041, 47.3], [2.86, 43.48], [2.602, 38.38], [2.344, 32.0], [2.164, 25.63], [2.035, 20.1], [1.932, 16.28]],
  non90: [[1.906, 18.4], [1.983, 22.23], [2.138, 28.18], [2.344, 34.98], [2.602, 42.37], [2.86, 47.73], [3.015, 50.02], [3.093, 50.02], [3.105, 48.32], [3.054, 47.47], [2.912, 45.18], [2.654, 40.08], [2.396, 33.7], [2.189, 26.9], [2.035, 21.8], [1.944, 18.66]],
  rel50: [[2.009, 21.8], [2.086, 24.35], [2.241, 30.3], [2.473, 37.1], [2.706, 43.05], [2.912, 47.73], [2.925, 46.88], [2.809, 43.9], [2.602, 38.8], [2.344, 32.0], [2.138, 25.2], [2.035, 21.38]],
  non50: [[2.022, 21.8], [2.112, 25.2], [2.267, 31.15], [2.499, 37.53], [2.731, 43.48], [2.886, 47.3], [2.899, 46.45], [2.783, 43.48], [2.576, 38.38], [2.344, 32.43], [2.164, 26.05], [2.048, 21.8]],
  labels: [["rel50", 4], ["non50", 3], ["rel90", 13]],
};
const cDlAlpha = {
  rel90: [[3.3692, 43.05], [3.3745, 47.3], [3.3928, 49.0], [3.4191, 49.85], [3.4453, 50.28], [3.4584, 48.58], [3.461, 43.9], [3.4584, 37.1], [3.4558, 32.0], [3.4505, 26.9], [3.4479, 23.5], [3.4401, 20.1], [3.4191, 18.4], [3.4007, 19.25], [3.3876, 20.95], [3.3823, 26.9], [3.3745, 32.85], [3.3697, 38.8]],
  non90: [[3.3718, 43.9], [3.3771, 47.73], [3.3928, 48.58], [3.4191, 49.85], [3.4453, 49.43], [3.4624, 46.88], [3.4637, 41.35], [3.461, 35.4], [3.4532, 28.6], [3.4453, 25.2], [3.4374, 23.5], [3.4191, 21.8], [3.3981, 22.23], [3.3902, 25.2], [3.3797, 28.6], [3.3745, 35.4], [3.3713, 40.5]],
  rel50: [[3.3876, 43.9], [3.3928, 47.3], [3.4086, 48.15], [3.4322, 49.0], [3.4453, 48.15], [3.4466, 45.6], [3.4427, 42.2], [3.4374, 38.8], [3.4269, 35.4], [3.4217, 32.0], [3.4138, 31.15], [3.4086, 32.43], [3.4033, 35.4], [3.3981, 37.1], [3.3928, 39.65]],
  non50: [[3.3902, 44.75], [3.3981, 48.15], [3.4191, 49.0], [3.4401, 48.58], [3.4466, 47.3], [3.4453, 43.9], [3.4374, 39.65], [3.4296, 37.1], [3.4217, 32.85], [3.4138, 32.43], [3.4059, 34.03], [3.3981, 37.1], [3.3928, 40.5]],
  labels: [["non50", 12], ["rel50", 7], ["non90", 6], ["rel90", 14]],
};
const cDlDelta = {
  rel90: [[-0.4328, 49.85], [-0.4015, 51.55], [-0.3597, 51.13], [-0.3179, 49.85], [-0.2928, 47.73], [-0.2761, 46.03], [-0.274, 42.2], [-0.2803, 37.95], [-0.2844, 32.0], [-0.2928, 28.6], [-0.3012, 25.2], [-0.3095, 22.65], [-0.3262, 20.1], [-0.3597, 18.4], [-0.3931, 20.1], [-0.4015, 22.65], [-0.4098, 26.9], [-0.4182, 31.15], [-0.4266, 35.4], [-0.4307, 39.65], [-0.4328, 45.6]],
  non90: [[-0.4328, 48.15], [-0.4224, 50.7], [-0.3806, 51.13], [-0.3388, 50.28], [-0.297, 48.58], [-0.2803, 46.45], [-0.2761, 42.2], [-0.2803, 37.1], [-0.2928, 31.15], [-0.3095, 26.05], [-0.3262, 23.5], [-0.3597, 21.8], [-0.3806, 21.38], [-0.4015, 23.5], [-0.414, 28.6], [-0.4224, 33.7], [-0.4266, 39.65], [-0.4307, 44.75]],
  rel50: [[-0.4098, 45.6], [-0.4015, 48.15], [-0.3597, 48.58], [-0.3179, 47.3], [-0.3012, 44.75], [-0.3054, 41.35], [-0.3179, 39.65], [-0.3304, 37.53], [-0.3429, 34.55], [-0.3513, 32.85], [-0.3576, 29.45], [-0.368, 29.03], [-0.3701, 30.73], [-0.3639, 32.85], [-0.3764, 35.4], [-0.3931, 37.53], [-0.4036, 39.65], [-0.4098, 42.2]],
  non50: [[-0.4098, 44.75], [-0.4015, 47.3], [-0.3597, 48.15], [-0.3221, 47.3], [-0.3116, 43.9], [-0.3179, 39.65], [-0.3304, 35.4], [-0.3429, 33.7], [-0.3555, 32.85], [-0.3597, 32.0], [-0.368, 33.7], [-0.3806, 35.4], [-0.3973, 37.95], [-0.4057, 41.35]],
  labels: [["non90", 1], ["rel50", 1], ["rel90", 3], ["non50", 13]],
};

const contourPanels = [
  { row: 1, col: 0, c: cQMc },
  { row: 2, col: 0, c: cChiMc },
  { row: 2, col: 1, c: cChiQ },
  { row: 3, col: 0, c: cIotaMc },
  { row: 3, col: 1, c: cIotaQ },
  { row: 3, col: 2, c: cIotaChi },
  { row: 4, col: 0, c: cAlphaMc },
  { row: 4, col: 1, c: cAlphaQ },
  { row: 4, col: 2, c: cAlphaChi },
  { row: 4, col: 3, c: cAlphaIota },
  { row: 5, col: 0, c: cDeltaMc },
  { row: 5, col: 1, c: cDeltaQ },
  { row: 5, col: 2, c: cDeltaChi },
  { row: 5, col: 3, c: cDeltaIota },
  { row: 5, col: 4, c: cDeltaAlpha },
  { row: 6, col: 0, c: cDlMc },
  { row: 6, col: 1, c: cDlQ },
  { row: 6, col: 2, c: cDlChi },
  { row: 6, col: 3, c: cDlIota },
  { row: 6, col: 4, c: cDlAlpha },
  { row: 6, col: 5, c: cDlDelta },
];

// ---------- layout ----------
const W = 1407;
const H = 1353;
const left0 = 77;
const top0 = 65.7;
const pw = 180;
const ph = 169.6;
const stepX = 188.7;
const stepY = 178.1;
const black = "#000000";
const blue = "#1f77b4";
const axisColor = "#222222";
const font = "DejaVu Sans";
const lw = 1.9;
const titleSize = 16.5;
const scriptSize = 14;

const colX = (k: number) => left0 + k * stepX;
const rowY = (k: number) => top0 + k * stepY;

// writes a label (with sub/superscripts) into a text node, returns the final baseline shift
const appendParts = (text: any, parts: any[], size: number) => {
  let shift = 0;
  parts.forEach((p) => {
    const target = p.sup ? -0.42 * size : p.sub ? 0.24 * size : 0;
    text
      .append("tspan")
      .attr("dy", target - shift)
      .attr("font-size", p.sup || p.sub ? size * 0.72 : size)
      .attr("font-style", p.it ? "italic" : "normal")
      .text(p.t);
    shift = target;
  });
  return shift;
};

export default function App() {
  const ref = useRef<SVGSVGElement>(null);

  useEffect(() => {
    draw();
  }, []);

  const draw = () => {
    document.body.style.margin = "0";
    const svg = d3.select(ref.current);
    svg.selectAll("*").remove();
    svg.attr("font-family", font);

    svg.append("rect").attr("width", W).attr("height", H).attr("fill", "white");
    svg
      .append("defs")
      .append("clipPath")
      .attr("id", "panel-clip")
      .append("rect")
      .attr("width", pw)
      .attr("height", ph);

    const scaleFor = (k: number, vertical: boolean) =>
      d3.scaleLinear().domain(domains[k]).range(vertical ? [ph, 0] : [0, pw]);

    const drawAxes = (g: any, row: number, col: number, diag: boolean) => {
      const x = scaleFor(col, false);
      const showX = row === 6;
      const fx = d3.format(tickFormats[col]);
      const ax = g
        .append("g")
        .attr("transform", `translate(0,${ph})`)
        .call(
          d3
            .axisBottom(x)
            .tickValues(xTicks[col])
            .tickSize(4.5)
            .tickPadding(3.5)
            .tickFormat((d: any) => (showX ? fx(d) : ""))
        );
      ax.select(".domain").remove();
      ax.attr("font-family", font).attr("font-size", 11.5);
      ax.selectAll("line").attr("stroke", axisColor).attr("stroke-width", 1.1);
      ax.selectAll("text").attr("fill", axisColor);

      let leftAxis = null;
      if (!diag) {
        const y = scaleFor(row, true);
        const showY = col === 0;
        const fy = d3.format(tickFormats[row]);
        leftAxis = g.append("g").call(
          d3
            .axisLeft(y)
            .tickValues(yTicks[row])
            .tickSize(4.5)
            .tickPadding(3.5)
            .tickFormat((d: any) => (showY ? fy(d) : ""))
        );
        leftAxis.select(".domain").remove();
        leftAxis.attr("font-family", font).attr("font-size", 11.5);
        leftAxis.selectAll("line").attr("stroke", axisColor).attr("stroke-width", 1.1);
        leftAxis.selectAll("text").attr("fill", axisColor);
      }

      g.append("rect")
        .attr("width", pw)
        .attr("height", ph)
        .attr("fill", "none")
        .attr("stroke", axisColor)
        .attr("stroke-width", 1.1);
      return leftAxis;
    };

    // one title line: main text followed by stacked +/- scripts; returns its width
    const titleLine = (g: any, x0: number, base: number, color: string, parts: any, value: string, plus: string, minus: string, alignRight: boolean) => {
      const main = g
        .append("text")
        .attr("y", base)
        .attr("font-size", titleSize)
        .attr("fill", color);
      if (parts) {
        const shift = appendParts(main, parts, titleSize);
        main.append("tspan").attr("dy", -shift).attr("font-size", titleSize).text(" = " + value);
      } else {
        main.text(value);
      }
      const sup = g.append("text").attr("y", base - 8.2).attr("font-size", scriptSize).attr("fill", color).text(plus);
      const sub = g.append("text").attr("y", base + 3.8).attr("font-size", scriptSize).attr("fill", color).text(minus);
      const mw = main.node().getComputedTextLength();
      const sw = Math.max(sup.node().getComputedTextLength(), sub.node().getComputedTextLength());
      const start = alignRight ? x0 - mw - sw - 0.5 : x0;
      main.attr("x", start);
      sup.attr("x", start + mw + 0.5);
      sub.attr("x", start + mw + 0.5);
      return mw + sw + 0.5;
    };

    // ----- diagonal: 1D histograms -----
    for (let k = 0; k < paramKeys.length; k++) {
      const g = svg.append("g").attr("transform", `translate(${colX(k)},${rowY(k)})`);
      const x = scaleFor(k, false);
      const [lo, hi] = histRanges[k];
      const rel = relHists[k];
      const non = nonHists[k];
      const ymax = (d3.max([...rel, ...non]) as number) * 1.045;
      const y = d3.scaleLinear().domain([0, ymax]).range([ph, 0]);
      const inner = g.append("g").attr("clip-path", "url(#panel-clip)");

      const stepPath = (counts: number[]) => {
        const n = counts.length;
        const edge = (i: number) => lo + (i * (hi - lo)) / n;
        const p = d3.path();
        p.moveTo(x(edge(0)), y(0));
        counts.forEach((c, i) => {
          p.lineTo(x(edge(i)), y(c));
          p.lineTo(x(edge(i + 1)), y(c));
        });
        p.lineTo(x(edge(n)), y(0));
        return p.toString();
      };

      const series = [
        { counts: rel, color: black, med: relMedian[k], plus: relPlus[k], minus: relMinus[k] },
        { counts: non, color: blue, med: nonMedian[k], plus: nonPlus[k], minus: nonMinus[k] },
      ];
      series.forEach((s) => {
        inner
          .append("path")
          .attr("d", stepPath(s.counts))
          .attr("fill", "none")
          .attr("stroke", s.color)
          .attr("stroke-width", lw)
          .attr("stroke-linejoin", "miter");
        [s.med - s.minus, s.med, s.med + s.plus].forEach((v) => {
          inner
            .append("line")
            .attr("x1", x(v))
            .attr("x2", x(v))
            .attr("y1", 0)
            .attr("y2", ph)
            .attr("stroke", s.color)
            .attr("stroke-width", lw)
            .attr("stroke-dasharray", "7,3");
        });
      });

      drawAxes(g, k, k, true);

      // title: black line left-aligned on the panel, blue line right-aligned under it
      const fmt = d3.format(`.${medianDec[k]}f`);
      const fmtRelMinus = d3.format(`.${relMinusDec[k]}f`);
      const w1 = titleLine(g, 0, -40, black, labelParts[k], fmt(relMedian[k]), "+" + fmt(relPlus[k]), "\u2212" + fmtRelMinus(relMinus[k]), false);
      titleLine(g, w1, -12.4, blue, null, fmt(nonMedian[k]), "+" + fmt(nonPlus[k]), "\u2212" + fmt(nonMinus[k]), true);
    }

    // ----- off-diagonal: 2D contours -----
    const seriesStyle: any = { rel: black, non: blue };
    contourPanels.forEach(({ row, col, c }: any) => {
      const g = svg.append("g").attr("transform", `translate(${colX(col)},${rowY(row)})`);
      const x = scaleFor(col, false);
      const y = scaleFor(row, true);
      const inner = g.append("g").attr("clip-path", "url(#panel-clip)");
      const line = d3
        .line<number[]>()
        .x((d) => x(d[0]))
        .y((d) => y(d[1]))
        .curve(d3.curveCatmullRomClosed.alpha(0.5));

      ["rel", "non"].forEach((s) => {
        [90, 50].forEach((lvl) => {
          inner
            .append("path")
            .attr("d", line(c[`${s}${lvl}`]))
            .attr("fill", "none")
            .attr("stroke", seriesStyle[s])
            .attr("stroke-width", lw);
        });
        c.labels
          .filter((l: any) => l[0].startsWith(s))
          .forEach(([key, seg]: any) => {
            const pts = c[key];
            const a = pts[seg];
            const b = pts[(seg + 1) % pts.length];
            const ax = x(a[0]);
            const ay = y(a[1]);
            const bx = x(b[0]);
            const by = y(b[1]);
            let ang = (Math.atan2(by - ay, bx - ax) * 180) / Math.PI;
            if (ang > 90) ang -= 180;
            if (ang < -90) ang += 180;
            inner
              .append("text")
              .attr("transform", `translate(${(ax + bx) / 2},${(ay + by) / 2}) rotate(${ang})`)
              .attr("text-anchor", "middle")
              .attr("dominant-baseline", "central")
              .attr("font-size", 14)
              .attr("fill", seriesStyle[s])
              .attr("stroke", "white")
              .attr("stroke-width", 3.5)
              .attr("paint-order", "stroke")
              .text(key.endsWith("90") ? "90%" : "50%");
          });
      });

      const leftAxis = drawAxes(g, row, col, false);

      if (col === 0) {
        const bb = leftAxis.node().getBBox();
        const lx = colX(0) + bb.x - 10.5;
        const ly = rowY(row) + ph / 2;
        const t = svg
          .append("text")
          .attr("transform", `translate(${lx},${ly}) rotate(-90)`)
          .attr("text-anchor", "middle")
          .attr("font-size", 21)
          .attr("fill", black);
        appendParts(t, labelParts[row], 21);
      }
    });

    // ----- bottom axis labels -----
    for (let k = 0; k < paramKeys.length; k++) {
      const t = svg
        .append("text")
        .attr("x", colX(k) + pw / 2)
        .attr("y", rowY(6) + ph + 40)
        .attr("text-anchor", "middle")
        .attr("font-size", 21)
        .attr("fill", black);
      appendParts(t, labelParts[k], 21);
    }

    // ----- legend -----
    const lg = svg.append("g");
    lg.append("rect")
      .attr("x", 1128)
      .attr("y", 0.7)
      .attr("width", 158)
      .attr("height", 52)
      .attr("rx", 3)
      .attr("fill", "white")
      .attr("stroke", "#cccccc")
      .attr("stroke-width", 1);
    seriesNames.forEach((name, i) => {
      lg.append("rect")
        .attr("x", 1134)
        .attr("y", 8.3 + i * 23.4)
        .attr("width", 34.3)
        .attr("height", 11.7)
        .attr("fill", i === 0 ? black : blue);
      lg.append("text")
        .attr("x", 1181)
        .attr("y", 19.8 + i * 23.4)
        .attr("font-size", 16)
        .attr("fill", black)
        .text(name);
    });
  };

  return <svg ref={ref} width={W} height={H} style={{ display: "block" }} />;
}
